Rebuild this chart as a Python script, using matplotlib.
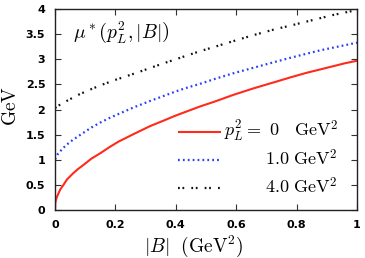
import matplotlib
matplotlib.use("Agg")
import matplotlib.pyplot as plt
import numpy as np

plt.rcParams['mathtext.fontset'] = 'cm'
plt.rcParams['font.family'] = ['DejaVu Sans']

# |B| (GeV^2) sample points and mu* values (GeV)
B_red = [0.0, 0.001, 0.003, 0.007, 0.0175, 0.028, 0.04, 0.06, 0.075, 0.095, 0.12, 0.15, 0.18, 0.21,
         0.26, 0.315, 0.36, 0.40, 0.44, 0.48, 0.53, 0.59, 0.657, 0.73, 0.78, 0.833, 0.88, 0.92, 0.96, 1.0]
mu_red = [0.0, 0.14, 0.20, 0.27, 0.41, 0.50, 0.61, 0.73, 0.81, 0.90, 1.02, 1.13, 1.25, 1.36,
          1.51, 1.67, 1.78, 1.88, 1.97, 2.06, 2.16, 2.29, 2.42, 2.55, 2.64, 2.73, 2.80, 2.86, 2.92, 2.97]

B_blue = [0.0, 0.01, 0.028, 0.045, 0.06, 0.095, 0.12, 0.15, 0.18, 0.21, 0.26, 0.315, 0.36, 0.40,
          0.44, 0.48, 0.53, 0.59, 0.657, 0.73, 0.78, 0.833, 0.88, 0.92, 0.96, 1.0]
mu_blue = [1.01, 1.12, 1.24, 1.33, 1.40, 1.54, 1.64, 1.74, 1.83, 1.91, 2.04, 2.17, 2.27, 2.36,
           2.44, 2.51, 2.61, 2.72, 2.83, 2.95, 3.03, 3.11, 3.18, 3.23, 3.28, 3.33]

B_black = [0.0, 0.02, 0.048, 0.08, 0.114, 0.15, 0.2, 0.24, 0.27, 0.331, 0.36, 0.40, 0.44, 0.48,
           0.53, 0.59, 0.657, 0.73, 0.78, 0.833, 0.88, 0.92, 0.96, 1.0]
mu_black = [2.03, 2.11, 2.20, 2.30, 2.39, 2.48, 2.59, 2.67, 2.73, 2.86, 2.92, 3.00, 3.08, 3.16,
            3.25, 3.36, 3.48, 3.60, 3.67, 3.75, 3.82, 3.88, 3.93, 3.98]

labels = [r'$p_L^2 =\ 0\ \ \ \mathrm{GeV}^2$', r'$1.0\ \mathrm{GeV}^2$', r'$4.0\ \mathrm{GeV}^2$']
xticks = [0, 0.2, 0.4, 0.6, 0.8, 1]
xticklabels = ['0', '0.2', '0.4', '0.6', '0.8', '1']
yticks = [0, 0.5, 1, 1.5, 2, 2.5, 3, 3.5, 4]
yticklabels = ['0', '0.5', '1', '1.5', '2', '2.5', '3', '3.5', '4']

fig = plt.figure(figsize=(3.65, 2.58), dpi=100)
ax = fig.add_axes([55/365, 1-210/258, 302/365, 201/258])

l1, = ax.plot(B_red, mu_red, color='#ff2a1a', lw=1.5, solid_capstyle='butt')
l2, = ax.plot(B_blue, mu_blue, color='#2a3cff', lw=1.6, linestyle=(0, (0.8, 1.4)))
l3, = ax.plot(B_black, mu_black, color='#111111', lw=1.6, linestyle=(0, (0.8, 1.2, 0.8, 3.2)))

ax.set_xlim(0, 1)
ax.set_ylim(0, 4)
ax.set_xticks(xticks)
ax.set_xticklabels(xticklabels, fontweight='bold')
ax.set_yticks(yticks)
ax.set_yticklabels(yticklabels, fontweight='bold')
ax.tick_params(direction='in', top=True, right=True, length=4, width=0.8, labelsize=8, color='#333333')
ax.tick_params(axis='x', pad=7)
ax.tick_params(axis='y', pad=7)
for s in ax.spines.values():
    s.set_linewidth(1.0)
    s.set_color('#222222')

ax.set_ylabel(r'$\mathrm{GeV}$', fontsize=14, va='center')
ax.yaxis.set_label_coords(-0.146, 0.517)
ax.set_xlabel(r'$|B|\ \ (\mathrm{GeV}^2)$', fontsize=14, va='center')
ax.xaxis.set_label_coords(0.46, -0.18)

ax.text(0.06, 0.88, r'$\mu^*\left(p_L^2,|B|\right)$', transform=ax.transAxes,
        fontsize=14, ha='left', va='center')

# legend: sample lines via legend, labels right-aligned as separate texts
leg = ax.legend([l1, l2, l3], [' ', ' ', ' '], loc='upper left', bbox_to_anchor=(0.407, 0.425),
                frameon=False, fontsize=13, handlelength=2.4, handletextpad=0.0,
                labelspacing=0.55, borderpad=0.0, borderaxespad=0.0)
label_y = [0.393, 0.254, 0.112]
for lab, yy in zip(labels, label_y):
    ax.text(0.937, yy, lab, transform=ax.transAxes, fontsize=13, ha='right', va='center')

fig.savefig('out.png', dpi=100)
